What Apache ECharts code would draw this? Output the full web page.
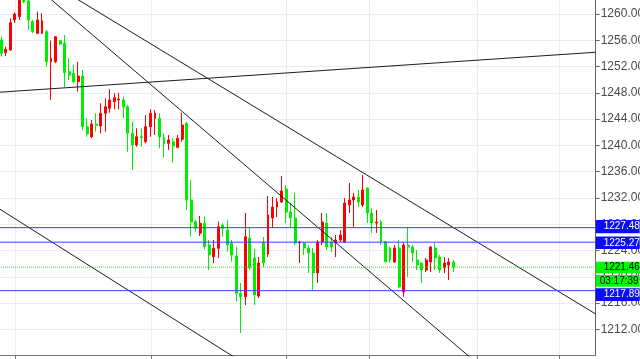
<!DOCTYPE html>
<html><head><meta charset="utf-8">
<script src="https://cdn.jsdelivr.net/npm/echarts@6/dist/echarts.min.js"></script>
<style>html,body{margin:0;padding:0;background:#fff;overflow:hidden}#c{width:640px;height:359px}</style>
</head><body><div id="c"></div>
<script>
// ---- candle values (oldest -> newest) ----
const opens = [1256.04,1254.11,1254.52,1259.09,1259.59,1262.74,1262.00,1258.83,1257.06,1257.06,
1257.31,1252.74,1252.74,1255.94,1255.54,1251.22,1250.97,1249.70,1250.56,1242.85,
1241.32,1243.26,1242.95,1244.89,1245.65,1246.65,1246.91,1246.91,1245.89,1241.84,
1240.06,1241.32,1240.56,1242.85,1244.12,1244.12,1241.23,1240.32,1240.56,1239.71,
1240.93,1243.36,1231.69,1228.39,1226.62,1228.14,1224.84,1223.06,1224.34,1227.88,
1227.12,1225.10,1223.17,1217.49,1216.97,1225.91,1222.86,1217.08,1225.30,1223.47,
1228.95,1230.62,1231.39,1233.36,1229.86,1228.95,1225.15,1225.15,1224.38,1223.62,
1220.58,1225.30,1228.19,1225.30,1225.15,1225.60,1225.30,1230.93,1231.69,1232.15,
1230.93,1233.52,1229.71,1228.19,1228.39,1225.34,1224.38,1222.25,1224.38,1217.69,
1224.84,1224.54,1222.56,1222.10,1221.04,1222.25,1224.38,1223.01,1221.34,1221.80,1222.25];
const closes = [1254.02,1254.63,1258.68,1260.00,1262.59,1261.87,1259.09,1257.31,1259.09,1258.98,
1252.74,1253.26,1256.54,1255.43,1251.07,1250.71,1249.70,1250.56,1242.85,1241.74,
1243.26,1243.06,1244.89,1245.89,1246.91,1247.26,1247.06,1245.84,1241.84,1240.06,
1241.32,1241.17,1242.85,1244.89,1244.89,1241.32,1240.21,1240.82,1239.91,1241.08,
1243.10,1231.69,1228.39,1227.38,1228.14,1224.58,1223.32,1224.34,1227.63,1227.38,
1224.84,1223.32,1217.49,1216.97,1226.10,1221.34,1217.23,1222.10,1222.10,1229.41,
1230.62,1231.39,1233.06,1229.86,1228.95,1225.15,1225.30,1224.38,1223.62,1220.58,
1225.30,1228.34,1224.54,1224.54,1225.60,1226.36,1231.23,1231.69,1232.15,1231.39,
1233.21,1229.71,1228.19,1228.34,1225.34,1222.30,1222.56,1224.38,1218.45,1224.84,
1224.54,1223.62,1221.80,1221.04,1222.56,1224.54,1222.86,1221.04,1222.10,1222.25,1221.46];
const lows = [1253.50,1253.61,1254.40,1258.63,1259.09,1261.63,1257.56,1257.06,1256.95,1256.95,
1251.98,1246.91,1252.50,1255.28,1248.84,1249.95,1249.45,1248.17,1242.34,1241.32,
1241.08,1242.09,1241.84,1242.09,1244.98,1245.49,1245.49,1244.12,1239.04,1236.26,
1239.80,1239.80,1240.32,1241.32,1241.58,1239.56,1238.19,1239.30,1237.37,1239.56,
1240.56,1230.17,1226.10,1226.87,1226.21,1224.19,1221.04,1222.06,1222.82,1226.10,
1223.82,1222.30,1216.21,1211.45,1215.71,1221.04,1215.71,1216.77,1221.49,1223.01,
1227.43,1229.10,1231.23,1228.19,1227.58,1224.84,1222.10,1223.32,1220.58,1217.99,
1219.06,1224.84,1224.08,1223.78,1223.01,1225.30,1225.15,1229.71,1227.58,1230.62,
1230.62,1228.19,1226.67,1226.67,1224.84,1222.10,1222.10,1222.10,1218.30,1216.93,
1219.97,1222.25,1221.04,1219.06,1220.73,1220.73,1221.04,1220.58,1220.58,1219.51,1220.73];
const highs = [1256.54,1255.02,1259.34,1260.26,1262.89,1263.35,1262.60,1259.09,1260.35,1260.11,
1257.56,1255.94,1256.65,1256.04,1256.80,1253.26,1252.24,1252.74,1251.48,1244.12,
1243.87,1244.89,1246.41,1247.17,1248.54,1247.93,1248.02,1247.41,1246.15,1243.61,
1242.60,1242.60,1244.63,1245.49,1245.39,1244.89,1241.84,1241.58,1241.08,1241.58,
1244.98,1243.61,1234.73,1228.65,1229.25,1229.15,1225.60,1225.60,1228.39,1228.14,
1228.65,1225.60,1224.58,1219.06,1229.71,1227.43,1224.23,1223.01,1226.06,1232.30,
1232.15,1231.99,1235.34,1233.97,1231.23,1232.76,1225.40,1225.30,1224.84,1224.38,
1225.60,1229.71,1229.71,1226.06,1226.36,1227.12,1231.99,1234.28,1232.76,1233.21,
1235.49,1233.60,1230.47,1230.17,1228.65,1225.40,1224.54,1224.84,1225.60,1225.15,
1227.58,1224.84,1224.08,1222.20,1222.86,1224.69,1225.15,1223.32,1223.01,1222.86,1222.56];

// number of bar slots on the time axis (includes empty space on the right)
const slotCount = 132;
// vertical time grid positions (in bar-slot units)
const timeTicks = [3.03, 33.12, 63.14, 81.42, 105.31, 123.38];
// price axis
const priceMin = 1208, priceMax = 1264, priceStep = 4;
// horizontal levels
const blueLevels = [1227.48, 1225.27, 1217.89];
const lastPrice = 1221.46;
const countdown = '03:17:39';
// trend lines: [slotA, priceA, slotB, priceB]
const trendLines = [
  [12.0, 1264.26, 131.5, 1214.34],
  [7.52, 1264.26, 107.0, 1205.81],
  [-0.5, 1230.37, 56.04, 1205.81],
  [-0.5, 1248.09, 131.5, 1254.18]
];

const FONT = 'Arial, "Liberation Sans", sans-serif';
const slotLabels = Array.from({length: slotCount}, (_, i) => String(i));
const candles = opens.map((o, i) => [o, closes[i], lows[i], highs[i]]);
const xFirst = -0.5, xLast = slotCount - 0.5;

// price tag boxes on the right axis: size, vertical nudge (px) and colours
function tag(value, text, h, dy, fill, ink, padLeft) {
  return {
    coord: [xLast, value], symbol: 'rect', symbolSize: [44, h], symbolOffset: [22, dy],
    itemStyle: {color: fill},
    label: {show: true, position: [padLeft, h / 2], align: 'left', verticalAlign: 'middle',
      color: ink, fontSize: 10, fontFamily: FONT, formatter: text}
  };
}
const BLUE_BOX = '#0c0cf8', GREEN_BOX = '#00f800';
const blueTagLayout = [[13.3, -1], [12.4, 0.6], [12.7, 4]];

const levelSeries = blueLevels.map((v, i) => ({
  type: 'line', xAxisIndex: 1, yAxisIndex: 0, clip: false, z: 5, silent: true,
  symbol: 'none', showSymbol: false,
  data: [[xFirst, v], [xLast, v]],
  lineStyle: {color: '#3b3bff', width: 1, type: 'solid'},
  markPoint: {silent: true, animation: false,
    data: [tag(v, v.toFixed(2), blueTagLayout[i][0], blueTagLayout[i][1], BLUE_BOX, '#ffffff', 8)]}
}));
levelSeries.push({
  type: 'line', xAxisIndex: 1, yAxisIndex: 0, clip: false, z: 5, silent: true,
  symbol: 'none', showSymbol: false,
  data: [[xFirst, lastPrice], [xLast, lastPrice]],
  lineStyle: {color: '#2ee02e', width: 1, type: 'dotted'},
  markPoint: {silent: true, animation: false,
    data: [
      tag(lastPrice, lastPrice.toFixed(2), 11.7, 0.3, GREEN_BOX, '#000000', 8),
      tag(lastPrice, countdown, 11.7, 13.6, GREEN_BOX, '#000000', 4)
    ]}
});

const trendSeries = trendLines.map(t => ({
  type: 'line', xAxisIndex: 1, yAxisIndex: 0,
  data: [[t[0], t[1]], [t[2], t[3]]],
  symbol: 'none', showSymbol: false, silent: true, clip: true, z: 4,
  lineStyle: {color: '#1c1c1c', width: 1}
}));

const chart = echarts.init(document.getElementById('c'), null, {renderer: 'canvas'});
chart.setOption({
  animation: false,
  backgroundColor: '#ffffff',
  grid: {left: -0.96, right: 44.32, top: -12.28, bottom: 3.36, containLabel: false, outerBoundsMode: 'none'},
  xAxis: [
    {type: 'category', data: slotLabels, position: 'top', show: false, boundaryGap: true},
    {type: 'value', min: xFirst, max: xLast, position: 'bottom',
      axisLine: {show: true, onZero: false, lineStyle: {color: '#777777', width: 1}},
      axisTick: {show: true, customValues: timeTicks, length: 5, lineStyle: {color: '#777777'}},
      axisLabel: {show: false},
      splitLine: {show: true, lineStyle: {color: '#e6eef2', width: 1}}}
  ],
  yAxis: {
    type: 'value', position: 'right', min: priceMin, max: priceMax, interval: priceStep,
    axisLine: {show: true, onZero: false, lineStyle: {color: '#666666', width: 1}},
    axisTick: {show: true, length: 4, lineStyle: {color: '#666666'}},
    axisLabel: {show: true, margin: 5, color: '#4a4a4a', fontSize: 12, fontFamily: FONT,
      showMinLabel: false, showMaxLabel: false, formatter: v => v.toFixed(2)},
    splitLine: {show: true, lineStyle: {color: '#e6eef2', width: 1}}
  },
  series: [
    {
      type: 'candlestick', xAxisIndex: 0, yAxisIndex: 0, data: candles,
      barWidth: 2.4, clip: false,
      itemStyle: {color: '#ff0000', color0: '#00ee00', borderColor: '#ff0000', borderColor0: '#00ee00', borderWidth: 1}
    }
  ].concat(trendSeries, levelSeries)
});
</script>
</body></html>
